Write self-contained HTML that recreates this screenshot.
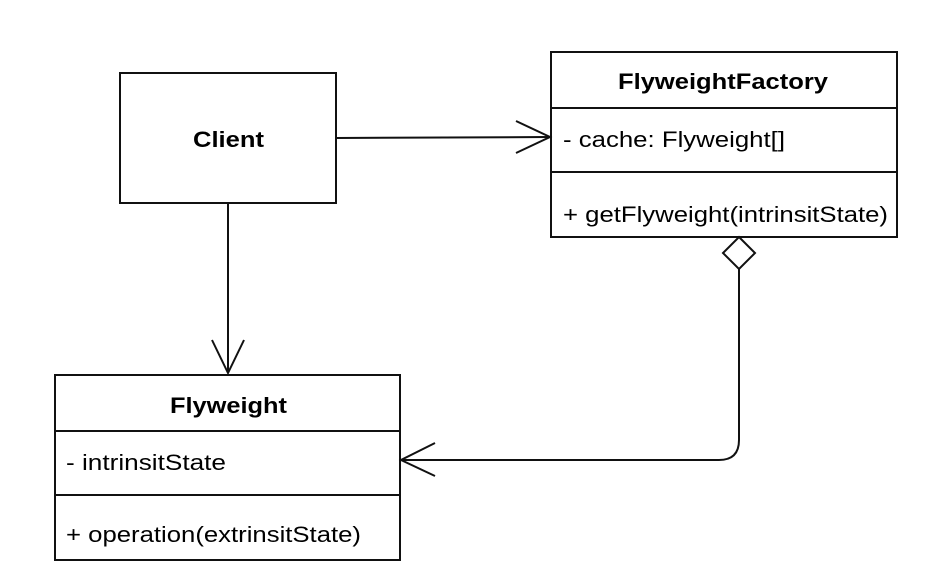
<!DOCTYPE html>
<html><head><style>
html,body{margin:0;padding:0;background:#fff;width:936px;height:582px;overflow:hidden}
svg text{font-family:"Liberation Sans",Arial,sans-serif;fill:#000}
</style></head><body>
<svg width="936" height="582" xmlns="http://www.w3.org/2000/svg">
<g fill="none" stroke="#111" stroke-width="2">
<rect x="120" y="73" width="216" height="130"/>
<rect x="551" y="52" width="346" height="185"/>
<line x1="551" y1="108" x2="897" y2="108"/>
<line x1="551" y1="172" x2="897" y2="172"/>
<rect x="55" y="375" width="345" height="185"/>
<line x1="55" y1="431" x2="400" y2="431"/>
<line x1="55" y1="495" x2="400" y2="495"/>
<line x1="336" y1="138" x2="550" y2="137"/>
<polyline points="516,121 550,137 516,153"/>
<line x1="228" y1="203" x2="228" y2="373"/>
<polyline points="212,340 228,373 244,340"/>
<polygon points="739,237 755,253 739,269 723,253" fill="#fff"/>
<path d="M739,269 V440 Q739,460 719,460 H401"/>
<polyline points="435,443 401,460 435,476"/>
</g>
<text x="193" y="147" font-size="22" font-weight="bold" textLength="71" lengthAdjust="spacingAndGlyphs">Client</text>
<text x="618" y="89" font-size="22" font-weight="bold" textLength="210" lengthAdjust="spacingAndGlyphs">FlyweightFactory</text>
<text x="563" y="147" font-size="22" textLength="222" lengthAdjust="spacingAndGlyphs">- cache: Flyweight[]</text>
<text x="563" y="222" font-size="22" textLength="325" lengthAdjust="spacingAndGlyphs">+ getFlyweight(intrinsitState)</text>
<text x="170" y="413" font-size="22" font-weight="bold" textLength="117" lengthAdjust="spacingAndGlyphs">Flyweight</text>
<text x="66" y="470" font-size="22" textLength="160" lengthAdjust="spacingAndGlyphs">- intrinsitState</text>
<text x="66" y="542" font-size="22" textLength="295" lengthAdjust="spacingAndGlyphs">+ operation(extrinsitState)</text>
</svg>
</body></html>
